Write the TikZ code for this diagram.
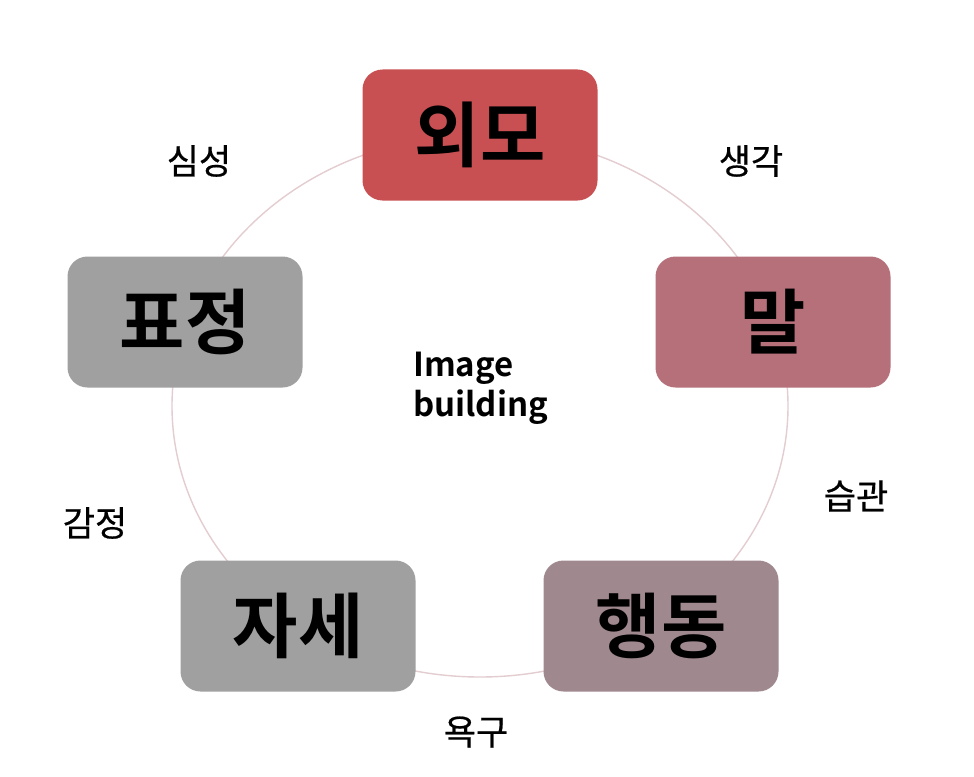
\documentclass[tikz,border=0pt]{standalone}
\usepackage{fontspec}
\newfontfamily\kr[FakeBold=0.6]{Noto Sans CJK KR}
\newfontfamily\krb{Noto Sans CJK KR Bold}
\definecolor{cA}{HTML}{C85052}
\definecolor{cB}{HTML}{B5707A}
\definecolor{cC}{HTML}{A0888F}
\definecolor{cD}{HTML}{A0A0A0}
\definecolor{ring}{HTML}{E3CDD0}
\tikzset{
  box/.style={rounded corners=20pt, minimum width=235pt, minimum height=131pt, inner sep=0pt,
    font=\krb\fontsize{71}{76}\selectfont, text=black},
  lbl/.style={font=\kr\fontsize{35}{38}\selectfont, text=black, inner sep=0pt},
}
\begin{document}
\begin{tikzpicture}[x=1pt,y=-1pt]
\useasboundingbox (0,0) rectangle (974,776);
\fill[white] (0,0) rectangle (974,776);
\draw[ring, line width=1.4pt] (480,406) ellipse [x radius=308, y radius=271];
\node[box, fill=cA] (wm) at (480,135) {외모};
\node[box, fill=cB] (mal) at (773,322) {말};
\node[box, fill=cC] (hd) at (661,626) {행동};
\node[box, fill=cD] (js) at (298,626) {자세};
\node[box, fill=cD] (pj) at (185,322) {표정};
\node[lbl] (l1) at (199,161) {심성};
\node[lbl] (l2) at (751,161) {생각};
\node[lbl] (l3) at (856,496) {습관};
\node[lbl] (l4) at (95,523) {감정};
\node[lbl] (l5) at (476,732) {욕구};
\node[font=\krb\fontsize{33}{40}\selectfont, align=left, inner sep=0pt, anchor=west] (ib) at (413,388) {Image\\building};
\end{tikzpicture}
\end{document}
